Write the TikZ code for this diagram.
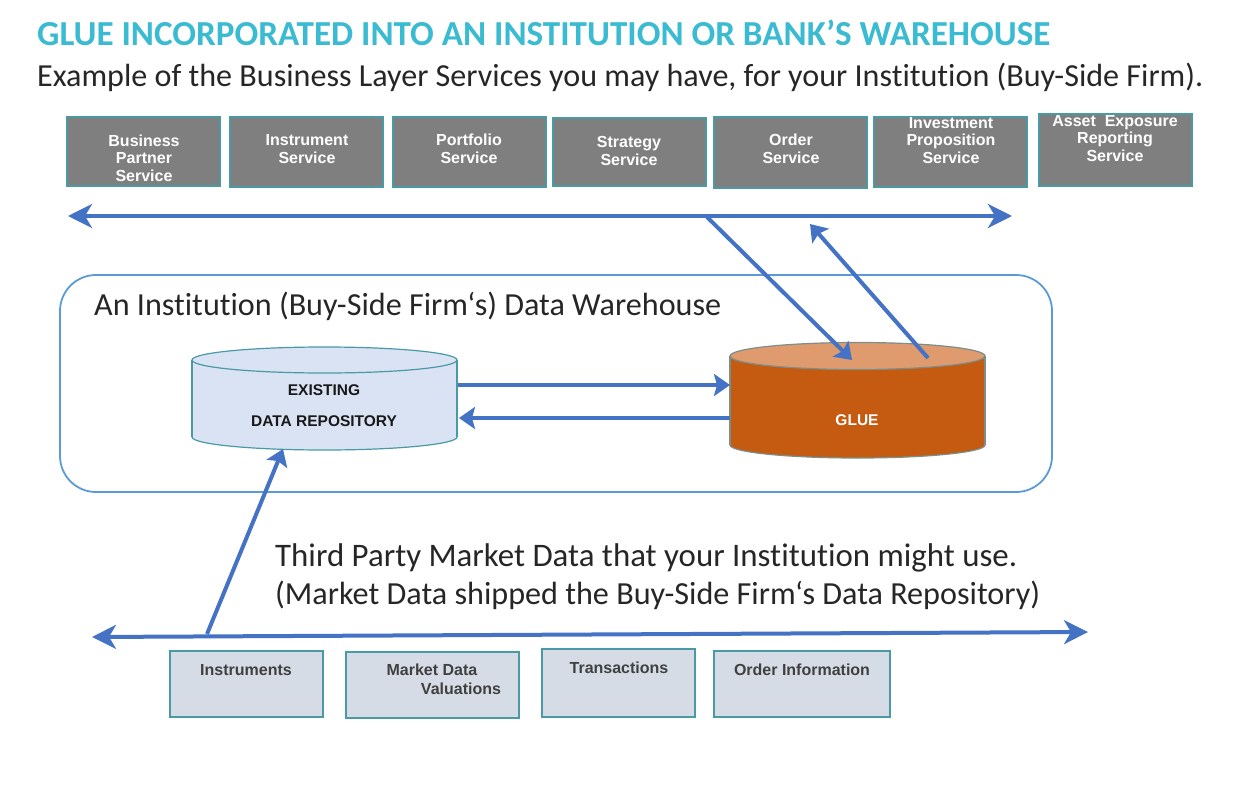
\documentclass[tikz,border=0pt]{standalone}
\usepackage{fontspec}
\setmainfont{Carlito}[Ligatures=NoCommon]
\newfontfamily\arialf{Liberation Sans}
\usetikzlibrary{arrows.meta}
\definecolor{arrowblue}{HTML}{4472C4}
\definecolor{whblue}{HTML}{5B9BD5}
\definecolor{titlecyan}{HTML}{3BBBD2}
\definecolor{txtdark}{HTML}{262626}
\definecolor{svcgray}{HTML}{7F7F7F}
\definecolor{boxteal}{HTML}{4A9AA5}
\definecolor{srcfill}{HTML}{D6DCE5}
\definecolor{repofill}{HTML}{DAE3F3}
\definecolor{gluebody}{HTML}{C55A11}
\definecolor{gluetop}{HTML}{DF9A6D}
\definecolor{glueedge}{HTML}{7A8F8A}
\begin{document}
\begin{tikzpicture}[x=1pt,y=-1pt,
  svc/.style={draw=boxteal, line width=1.5pt, fill=svcgray, minimum width=153pt, inner sep=0pt},
  svctext/.style={font=\arialf\bfseries\fontsize{16}{17.5}\selectfont, text=white, align=center, inner sep=0pt},
  srcbox/.style={draw=boxteal, line width=1.2pt, fill=srcfill, inner sep=0pt},
  srctext/.style={font=\arialf\bfseries\fontsize{16}{18}\selectfont, text=black!75, inner sep=0pt},
  bigtext/.style={anchor=base west, inner sep=0pt, text=txtdark},
  flow/.style={draw=arrowblue, line width=4pt},
  bigtip/.tip={Stealth[length=24pt, width=24pt, inset=7pt]},
  medtip/.tip={Stealth[length=16pt, width=22pt, inset=3pt]}
]
\useasboundingbox (0,0) rectangle (1246,789);

% titles
\node[bigtext, text=titlecyan] (title) at (37,46) {\resizebox{1013pt}{!}{\bfseries GLUE INCORPORATED INTO AN INSTITUTION OR BANK’S WAREHOUSE}};
\node[bigtext] (subtitle) at (37,87) {\resizebox{1166pt}{!}{Example of the Business Layer Services you may have, for your Institution (Buy-Side Firm).}};

% service boxes
\node[svc, minimum height=69pt] (s1) at (143.5,151.5) {};
\node[svc, minimum height=70pt] (s2) at (306.5,152) {};
\node[svc, minimum height=70pt] (s3) at (469.5,152) {};
\node[svc, minimum height=68pt] (s4) at (629.5,152) {};
\node[svc, minimum height=71pt] (s5) at (790.5,152.5) {};
\node[svc, minimum height=70pt] (s6) at (950.5,152) {};
\node[svc, minimum height=72pt] (s7) at (1115.5,150) {};
\node[svctext] (s1t) at (144,158) {Business\\Partner\\Service};
\node[svctext] (s2t) at (307,149) {Instrument\\Service};
\node[svctext] (s3t) at (469,149) {Portfolio\\Service};
\node[svctext] (s4t) at (629,151) {Strategy\\Service};
\node[svctext] (s5t) at (791,149) {Order\\Service};
\node[svctext] (s6t) at (951,140.5) {Investment\\Proposition\\Service};
\node[svctext] (s7t) at (1115,138.5) {Asset~ Exposure\\Reporting\\Service};

% top bus
\coordinate (tl) at (68,216);
\coordinate (tr) at (1012,216);
\draw[flow, {bigtip}-{bigtip}] (tl) -- (tr);

% warehouse
\node[draw=whblue, line width=1.8pt, rounded corners=36pt, minimum width=992pt, minimum height=217pt, inner sep=0pt] (wh) at (556,383.5) {};
\node[bigtext] (whlabel) at (94,315.5) {\resizebox{627pt}{!}{An Institution (Buy-Side Firm‘s) Data Warehouse}};

% existing repository cylinder
\filldraw[fill=repofill, draw=boxteal, line width=1.2pt] (324.5,437) ellipse[x radius=132.5, y radius=13];
\fill[repofill] (192,360) rectangle (457,437);
\draw[boxteal, line width=1.2pt] (192,360) -- (192,437) (457,360) -- (457,437);
\filldraw[fill=repofill, draw=boxteal, line width=1.2pt] (324.5,360) ellipse[x radius=132.5, y radius=13];
\node[font=\arialf\bfseries\fontsize{15.5}{31}\selectfont, text=black!90, align=center, inner sep=0pt] (repo) at (324,406) {EXISTING\\DATA REPOSITORY};

% glue cylinder
\filldraw[fill=gluebody, draw=glueedge, line width=1.2pt] (857.5,445) ellipse[x radius=127.5, y radius=13];
\fill[gluebody] (730,356) rectangle (985,445);
\draw[glueedge, line width=1.2pt] (730,356) -- (730,445) (985,356) -- (985,445);
\filldraw[fill=gluetop, draw=glueedge, line width=1.2pt] (857.5,356) ellipse[x radius=127.5, y radius=13.5];
\node[font=\arialf\bfseries\fontsize{15.5}{18}\selectfont, text=white, inner sep=0pt] (glue) at (857,420) {GLUE};

% diagonal arrows
\coordinate (d1s) at (707,217);
\coordinate (d1e) at (852,360);
\coordinate (d2s) at (928,358);
\coordinate (d2e) at (810,224);
\draw[flow, -{medtip}] (d1s) -- (d1e);
\draw[flow, -{medtip}] (d2s) -- (d2e);

% middle arrows
\coordinate (r1) at (458,385);
\coordinate (g1) at (730,385);
\coordinate (g2) at (730,418);
\coordinate (r2) at (459,418);
\draw[flow, -{medtip}] (r1) -- (g1);
\draw[flow, -{medtip}] (g2) -- (r2);

% third party text
\node[bigtext] (tp1) at (275,566.5) {\resizebox{742pt}{!}{Third Party Market Data that your Institution might use.}};
\node[bigtext] (tp2) at (275,604) {\resizebox{765pt}{!}{(Market Data shipped the Buy-Side Firm‘s Data Repository)}};

% bottom bus
\coordinate (bl) at (92,637);
\coordinate (br) at (1088,632);
\draw[flow, {bigtip}-{bigtip}] (bl) -- (br);
\coordinate (us) at (207,634);
\coordinate (ue) at (283,449);
\draw[flow, -{medtip}] (us) -- (ue);

% source boxes
\node[srcbox, minimum width=153pt, minimum height=66pt] (b1) at (246.5,684) {};
\node[srcbox, minimum width=173pt, minimum height=66pt] (b2) at (432.5,685) {};
\node[srcbox, minimum width=153pt, minimum height=68pt] (b3) at (618.5,683) {};
\node[srcbox, minimum width=176pt, minimum height=66pt] (b4) at (802,684) {};
\node[srctext] (b1t) at (246,670) {Instruments};
\node[srctext] (b2t) at (432,670) {Market Data};
\node[srctext] (b2u) at (461,689) {Valuations};
\node[srctext] (b3t) at (619,668) {Transactions};
\node[srctext] (b4t) at (802,670) {Order Information};
\end{tikzpicture}
\end{document}
